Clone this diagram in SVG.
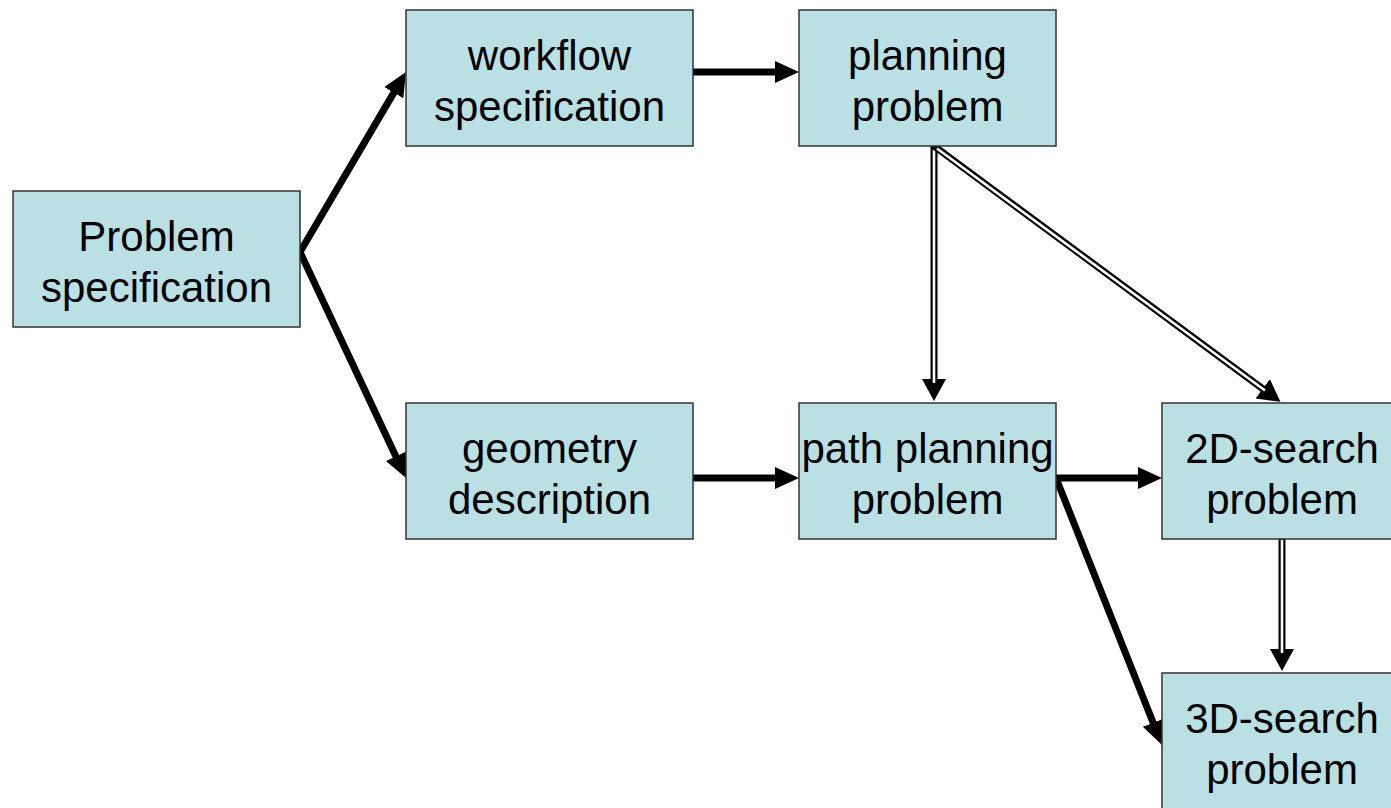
<svg xmlns="http://www.w3.org/2000/svg" width="1391" height="808" viewBox="0 0 1391 808">
<style>
.box{fill:#BBE0E3;stroke:#333;stroke-width:1.5}
.t{font-family:"Liberation Sans",Arial,sans-serif;font-size:42px;fill:#000;text-anchor:middle}
.bold{stroke:#000;stroke-width:7;fill:none}
.dbl{stroke:#000;stroke-width:7;fill:none}
.dblw{stroke:#fff;stroke-width:2.6;fill:none}
</style>
<defs>
<marker id="ah" markerUnits="userSpaceOnUse" markerWidth="26" markerHeight="24" refX="14" refY="11" orient="auto">
<path d="M0,0 L24,11 L0,22 z" fill="#000"/>
</marker>
<marker id="ah2" markerUnits="userSpaceOnUse" markerWidth="26" markerHeight="26" refX="12" refY="12" orient="auto">
<path d="M0,0 L22,12 L0,24 z" fill="#000"/>
</marker>
</defs>
<rect width="1391" height="808" fill="#fff"/>
<g id="connectors">
<line class="bold" x1="300" y1="252" x2="400.9" y2="80.6" marker-end="url(#ah)"/>
<line class="bold" x1="300" y1="252" x2="401.8" y2="469" marker-end="url(#ah)"/>
<line class="bold" x1="693" y1="72" x2="789" y2="72" marker-end="url(#ah)"/>
<line class="bold" x1="693" y1="478" x2="789" y2="478" marker-end="url(#ah)"/>
<line class="bold" x1="1056" y1="478" x2="1152" y2="478" marker-end="url(#ah)"/>
<line class="bold" x1="1056" y1="478" x2="1158.3" y2="735.7" marker-end="url(#ah)"/>
<line class="dbl" x1="934" y1="146" x2="934" y2="391" marker-end="url(#ah2)"/>
<line class="dblw" x1="934" y1="149" x2="934" y2="383"/>
<line class="dbl" x1="934" y1="146" x2="1272.4" y2="395.9" marker-end="url(#ah2)"/>
<line class="dblw" x1="937" y1="148.5" x2="1265" y2="390.5"/>
<line class="dbl" x1="1282" y1="539" x2="1282" y2="661" marker-end="url(#ah2)"/>
<line class="dblw" x1="1282" y1="540" x2="1282" y2="653"/>
</g>
<g id="n-problem">
<rect class="box" x="13" y="191" width="287" height="136"/>
<text class="t" x="156.5" y="251">Problem</text>
<text class="t" x="156.5" y="302">specification</text>
</g>
<g id="n-workflow">
<rect class="box" x="406" y="10" width="287" height="136"/>
<text class="t" x="549.5" y="70">workflow</text>
<text class="t" x="549.5" y="121">specification</text>
</g>
<g id="n-planning">
<rect class="box" x="799" y="10" width="257" height="136"/>
<text class="t" x="927.5" y="70">planning</text>
<text class="t" x="927.5" y="121">problem</text>
</g>
<g id="n-geometry">
<rect class="box" x="406" y="403" width="287" height="136"/>
<text class="t" x="549.5" y="463">geometry</text>
<text class="t" x="549.5" y="514">description</text>
</g>
<g id="n-path">
<rect class="box" x="799" y="403" width="257" height="136"/>
<text class="t" x="927.5" y="463">path planning</text>
<text class="t" x="927.5" y="514">problem</text>
</g>
<g id="n-2d">
<rect class="box" x="1162" y="403" width="240" height="136"/>
<text class="t" x="1282" y="463">2D-search</text>
<text class="t" x="1282" y="514">problem</text>
</g>
<g id="n-3d">
<rect class="box" x="1162" y="673" width="240" height="140"/>
<text class="t" x="1282" y="733">3D-search</text>
<text class="t" x="1282" y="784">problem</text>
</g>
</svg>
